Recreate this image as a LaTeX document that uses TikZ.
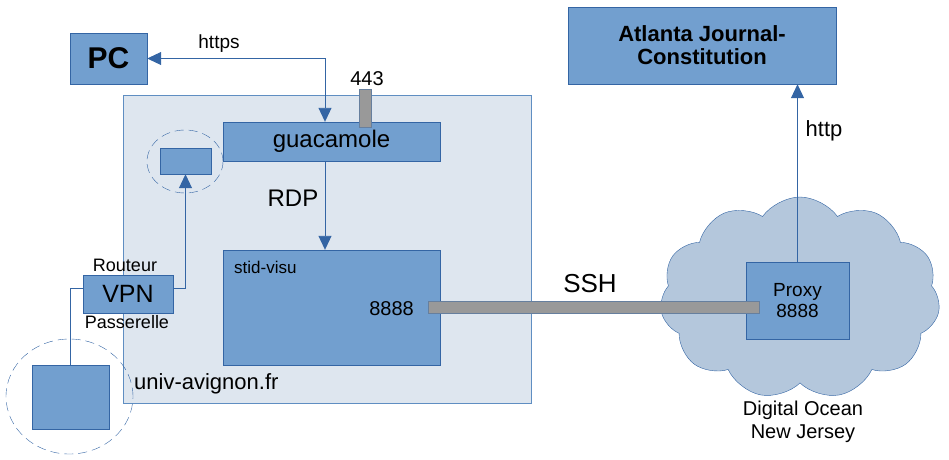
\documentclass[tikz,border=0pt]{standalone}
\usepackage{fontspec}
\setmainfont{Liberation Sans}
\usetikzlibrary{arrows.meta,shapes.geometric,shapes.symbols}
\definecolor{bleu}{HTML}{729FCF}
\definecolor{bleuFonce}{HTML}{3465A4}
\definecolor{fondZone}{HTML}{DEE6EF}
\definecolor{nuage}{HTML}{B4C7DC}
\definecolor{gris}{HTML}{999999}
\tikzset{
  boite/.style={rectangle, draw=bleuFonce, fill=bleu, inner sep=0pt},
  barre/.style={rectangle, draw=bleuFonce!50!gris, fill=gris, inner sep=0pt},
  pointille/.style={ellipse, draw=bleuFonce, dash pattern=on 9pt off 5pt, inner sep=0pt},
  lien/.style={draw=bleuFonce, line width=0.9pt},
  fleche/.style={lien, -{Triangle[length=14pt,width=13pt]}},
  etiq/.style={inner sep=0pt, align=center},
}
\begin{document}
\begin{tikzpicture}[x=1pt, y=-1pt]
			\useasboundingbox (0,0) rectangle (949,459);
			%Zones et boites
			\node[rectangle, draw=bleu!70!bleuFonce, fill=fondZone, minimum width=408pt, minimum height=308pt] (univ) at (327,249) {};
			\node[pointille, minimum width=76pt, minimum height=63pt] (cercleP) at (185,161.5) {};
			\node[boite, minimum width=217pt, minimum height=39pt, font=\fontsize{24}{28}\selectfont] (guac) at (331.5,141.5) {guacamole};
			\node[barre, minimum width=12pt, minimum height=38pt] (port443) at (365,108) {};
			\node[boite, minimum width=51pt, minimum height=26pt] (petit) at (185.5,161) {};
			\node[boite, minimum width=217pt, minimum height=115pt] (stid) at (331.5,307.5) {};
			\node[boite, minimum width=90pt, minimum height=38pt, font=\fontsize{25}{29}\selectfont] (vpn) at (128,294) {VPN};
			\node[boite, minimum width=77pt, minimum height=64pt] (poste) at (70.5,397) {};
			\node[pointille, minimum width=127pt, minimum height=115pt] (cercleG) at (69.5,396.5) {};
			\node[cloud, cloud puffs=11, cloud puff arc=110, aspect=1.38, draw=bleuFonce, fill=nuage, inner sep=0pt, minimum width=280pt, minimum height=202pt] (ocean) at (800,298) {};
			\node[boite, minimum width=103pt, minimum height=77pt, font=\fontsize{19}{21}\selectfont, align=center] (proxy) at (797.5,300.5) {Proxy\\8888};
			\node[barre, minimum width=331pt, minimum height=12pt] (tunnel) at (593.5,307) {};
			\node[boite, minimum width=268pt, minimum height=77pt, font=\bfseries\fontsize{22}{23}\selectfont, align=center] (ajc) at (702,45.5) {Atlanta Journal-\\Constitution};
			\node[boite, minimum width=77pt, minimum height=51pt, font=\bfseries\fontsize{30}{34}\selectfont] (pc) at (108.5,58.5) {PC};
			%Liens
			\draw[lien, {Triangle[length=14pt,width=13pt]}-{Triangle[length=14pt,width=13pt]}] (pc.east) -| ([xshift=-6.5pt]guac.north);
			\draw[fleche] ([xshift=-6.5pt]guac.south) -- ([xshift=-6.5pt]stid.north);
			\draw[fleche] ([yshift=6pt]vpn.east) -| (petit.south);
			\draw[lien] ([yshift=6pt]vpn.west) -| (poste.north);
			\draw[fleche] (proxy.north) -- (proxy.north |- ajc.south);
			%Etiquettes
			\node[etiq, font=\fontsize{19}{22}\selectfont] (lhttps) at (219,44) {https};
			\node[etiq, font=\fontsize{20}{24}\selectfont] (l443) at (367,79) {443};
			\node[etiq, font=\fontsize{24}{28}\selectfont] (lrdp) at (293,198) {RDP};
			\node[etiq, font=\fontsize{18}{21}\selectfont] (lrouteur) at (125,265.5) {Routeur};
			\node[etiq, font=\fontsize{18}{21}\selectfont] (lpasserelle) at (127,322.5) {Passerelle};
			\node[etiq, anchor=west, font=\fontsize{17}{20}\selectfont] (lstid) at (234,267) {stid-visu};
			\node[etiq, font=\fontsize{20}{24}\selectfont] (l8888) at (391.5,309) {8888};
			\node[etiq, anchor=west, font=\fontsize{22}{26}\selectfont] (luniv) at (134,384) {univ-avignon.fr};
			\node[etiq, font=\fontsize{26}{30}\selectfont] (lssh) at (590,283.5) {SSH};
			\node[etiq, font=\fontsize{22}{26}\selectfont] (lhttp) at (824,131) {http};
			\node[etiq, font=\fontsize{20}{23}\selectfont] (locean) at (803,421.5) {Digital Ocean\\New Jersey};
		\end{tikzpicture}
\end{document}
